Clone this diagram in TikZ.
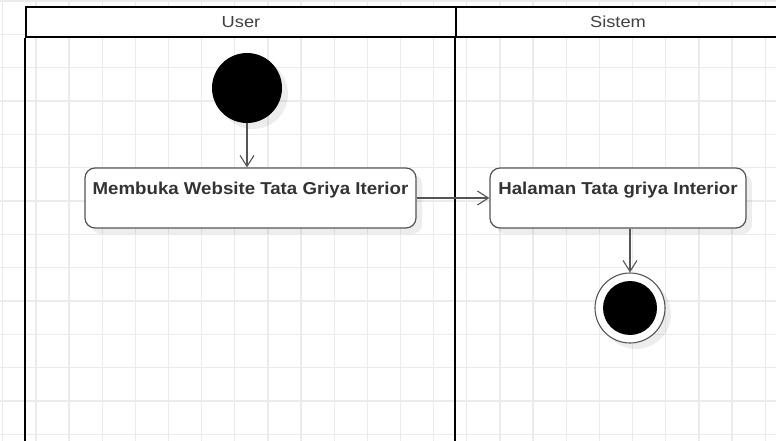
\documentclass[tikz,border=0pt]{standalone}
\usepackage{fontspec}
\setmainfont{Liberation Sans}
\newfontfamily\lanefont{Liberation Sans}[FakeStretch=1.14]
\newfontfamily\actfont{Liberation Sans}[FakeStretch=1.085]
\usetikzlibrary{arrows.meta,shadows}
\definecolor{gridgray}{HTML}{EBEBEB}
\definecolor{inkgray}{HTML}{333333}
\definecolor{edgegray}{HTML}{555555}
\tikzset{
		flow/.style={draw=edgegray, line width=1.1pt, -{Straight Barb[length=11pt,width=14pt]}},
		softshadow/.style={drop shadow={shadow xshift=6pt, shadow yshift=-6pt, fill=black, opacity=0.07}},
		}

\begin{document}
\begin{tikzpicture}[x=1pt,y=-1pt,node distance=110pt]
					\tikzstyle{lanehead}=[draw, fill=white, line width=2.5pt, minimum height=30pt, inner sep=0pt, text=black!75, font=\lanefont\fontsize{16}{18}\selectfont]
					\tikzstyle{activity}=[draw=edgegray, fill=white, line width=1.2pt, rounded corners=10pt, inner sep=0pt, text height=26pt, text depth=34pt, text=inkgray, font=\actfont\bfseries\fontsize{17.2}{20}\selectfont, softshadow]
					\useasboundingbox (0,0) rectangle (776,441);
					%GRID
					\foreach \gx in {0,...,23}
						\draw[gridgray, line width=1.3pt] (2.7+33.15*\gx,0) -- (2.7+33.15*\gx,441);
					\foreach \gy in {0,...,13}
						\draw[gridgray, line width=1.3pt] (0,1+33.33*\gy) -- (776,1+33.33*\gy);
					%LANES
					\node[lanehead, minimum width=430pt](user) at (241,22){User};
					\node[lanehead, minimum width=324pt](sistem) at (618,22){Sistem};
					\draw [line width=2.5pt] (user.south west) -- ++(0,420);
					\draw [line width=2.5pt] (sistem.south west) -- ++(0,420);
					%NODES
					\node[circle, fill=black, minimum size=70pt, inner sep=0pt, softshadow](start) at (247,88){};
					\node[activity, minimum width=331pt](act1)[below of = start, xshift=3.5pt]{Membuka Website Tata Griya Iterior};
					\node[activity, minimum width=256pt](act2)[right of = act1, xshift=257.5pt]{Halaman Tata griya Interior};
					\node[circle, draw=edgegray, line width=1.1pt, fill=white, minimum size=70pt, inner sep=0pt, softshadow](final)[below of = act2, xshift=12pt]{};
					\node[circle, fill=black, minimum size=54pt, inner sep=0pt](finalcore) at (final){};
					%PATHS
					\draw [flow] (start) -- (start |- act1.north);
					\draw [flow] (act1) -- (act2);
					\draw [flow] (act2.south -| final) -- (final);
				\end{tikzpicture}
\end{document}
